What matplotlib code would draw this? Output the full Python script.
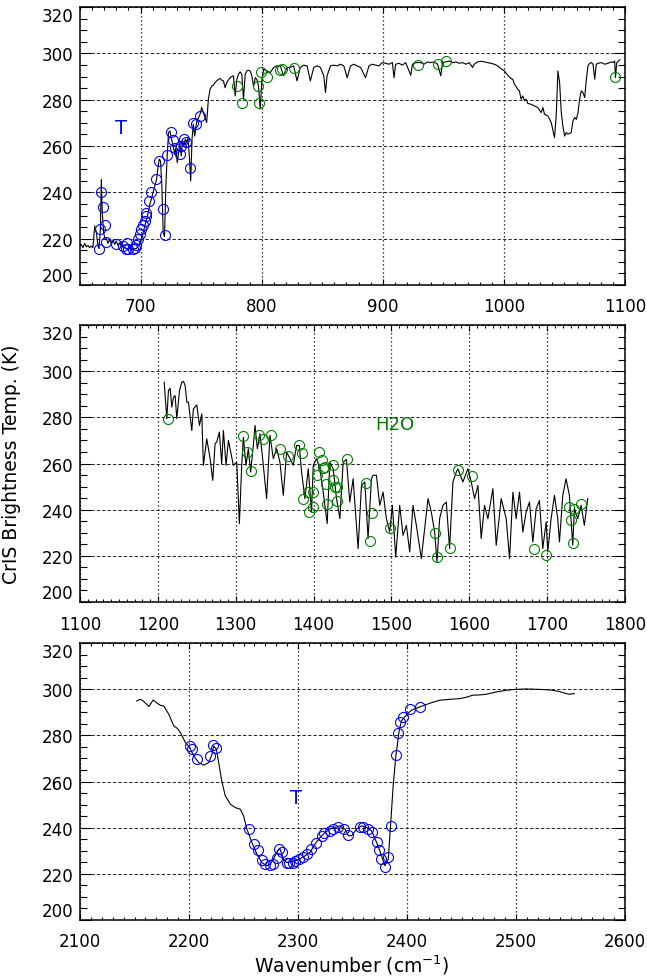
import matplotlib
matplotlib.use('Agg')
import matplotlib.pyplot as plt
from matplotlib.ticker import MultipleLocator

# ---- longwave band (650-1095 cm-1) ----
lw_wn = [649.7, 651.0, 652.4, 653.8, 655.2, 656.6, 657.9, 659.3, 660.7, 662.1,
         663.5, 664.9, 665.7, 666.8, 667.6, 668.4, 669.5, 670.7, 671.8, 673.1,
         674.5, 675.9, 677.3, 678.7, 680.0, 681.4, 682.8, 684.2, 685.6, 687.0,
         688.3, 689.7, 691.1, 692.5, 693.9, 695.2, 696.6, 698.0, 699.4, 700.8,
         702.1, 703.5, 704.9, 706.3, 707.7, 709.0, 710.4, 711.8, 713.2, 714.6,
         715.4, 716.5, 717.6, 718.7, 719.8, 720.9, 722.0, 723.1, 724.2, 725.6,
         727.0, 728.1, 729.2, 730.3, 731.4, 732.5, 733.6, 734.7, 735.8, 736.9,
         738.0, 739.1, 740.3, 741.4, 742.5, 743.6, 744.7, 745.8, 746.9, 748.0,
         749.1, 750.5, 751.9, 753.2, 754.6, 756.0, 757.4, 758.8, 760.1, 761.5,
         762.9, 764.3, 765.7, 767.0, 768.4, 769.8, 771.2, 772.6, 774.0, 775.3,
         776.7, 778.1, 779.5, 780.9, 782.2, 783.6, 785.0, 786.4, 787.8, 789.1,
         790.5, 791.9, 793.3, 794.7, 796.0, 797.4, 798.8, 800.2, 801.6, 804.3,
         807.1, 809.9, 812.6, 815.4, 818.1, 820.9, 823.7, 826.4, 829.2, 831.9,
         834.7, 837.5, 840.2, 843.0, 845.8, 848.5, 851.3, 852.7, 854.0, 856.8,
         859.6, 862.3, 865.1, 867.8, 870.6, 873.4, 876.1, 878.9, 881.7, 885.8,
         888.6, 891.3, 894.1, 896.8, 899.6, 902.4, 905.1, 907.9, 909.3, 910.6,
         913.4, 916.2, 918.9, 923.1, 924.5, 927.2, 931.4, 934.1, 936.9, 939.6,
         942.4, 945.2, 947.9, 949.3, 952.1, 954.8, 957.6, 960.4, 963.1, 965.9,
         968.7, 971.4, 974.2, 975.5, 978.3, 981.1, 983.8, 986.6, 989.4, 992.1,
         994.9, 997.6, 1000.4, 1003.2, 1005.9, 1007.3, 1008.7, 1010.1, 1011.5, 1012.8,
         1014.2, 1015.6, 1017.0, 1018.4, 1019.7, 1022.5, 1025.3, 1028.0, 1030.8, 1032.2,
         1033.5, 1036.3, 1039.1, 1041.8, 1043.2, 1044.6, 1046.0, 1047.4, 1048.7, 1050.1,
         1051.5, 1052.9, 1055.6, 1057.0, 1058.4, 1059.8, 1061.2, 1062.5, 1063.9, 1065.3,
         1066.7, 1068.1, 1069.4, 1070.8, 1072.2, 1073.6, 1075.0, 1076.3, 1077.7, 1080.5,
         1083.3, 1086.0, 1088.8, 1090.2, 1091.5, 1092.1, 1093.2, 1095.7]
lw_bt = [216.8, 217.5, 216.1, 218.0, 216.5, 217.1, 216.1, 216.8, 216.1, 225.5,
         222.6, 216.8, 215.7, 224.0, 245.6, 231.2, 222.6, 219.7, 220.0, 218.0,
         219.7, 217.5, 219.4, 217.5, 219.0, 217.1, 218.3, 216.5, 216.8, 216.1,
         215.7, 215.1, 216.0, 215.4, 215.1, 215.7, 215.7, 217.1, 218.0, 220.4,
         222.6, 225.5, 228.3, 231.2, 234.8, 237.3, 239.9, 242.7, 245.6, 251.4,
         254.3, 253.5, 242.7, 222.6, 220.9, 242.7, 255.7, 265.8, 266.5, 262.9,
         260.0, 256.4, 259.3, 252.8, 257.1, 261.5, 255.7, 262.2, 260.0, 262.9,
         261.5, 263.6, 255.7, 244.9, 262.9, 269.4, 264.3, 268.7, 271.5, 272.3,
         273.7, 276.6, 274.4, 272.3, 270.1, 280.2, 284.5, 285.9, 286.2, 287.4,
         288.1, 288.8, 289.1, 288.4, 288.1, 285.2, 287.4, 288.5, 289.5, 290.0,
         290.3, 281.6, 288.8, 291.0, 292.0, 291.0, 280.2, 291.0, 292.4, 292.7,
         292.4, 290.3, 285.6, 289.5, 288.8, 285.9, 275.9, 288.8, 293.1, 292.4,
         291.7, 293.9, 294.6, 294.6, 290.3, 293.9, 293.9, 294.6, 288.1, 293.9,
         294.9, 294.6, 288.1, 293.9, 294.6, 293.9, 290.3, 283.1, 290.3, 294.6,
         294.9, 294.6, 295.3, 294.6, 289.5, 294.6, 295.3, 294.6, 293.9, 289.5,
         294.6, 295.3, 294.9, 294.6, 296.0, 295.7, 295.3, 296.0, 289.5, 295.3,
         295.7, 294.9, 296.0, 290.5, 295.3, 296.0, 296.0, 295.3, 296.3, 296.0,
         296.3, 295.3, 290.3, 296.0, 296.3, 296.7, 296.0, 296.3, 295.7, 296.0,
         295.3, 296.0, 293.9, 295.3, 296.3, 296.6, 296.3, 296.0, 295.7, 295.3,
         294.6, 293.4, 292.4, 290.5, 289.1, 288.8, 286.7, 285.6, 284.5, 283.8,
         280.2, 281.6, 279.5, 280.2, 278.4, 278.0, 277.3, 276.6, 274.4, 276.6,
         273.7, 273.0, 270.1, 263.6, 273.0, 292.4, 287.4, 274.4, 268.7, 264.3,
         265.8, 265.1, 265.8, 270.8, 272.3, 271.5, 274.4, 280.2, 283.8, 283.1,
         280.9, 288.8, 294.6, 295.7, 296.0, 295.3, 288.8, 295.3, 295.7, 296.0,
         295.3, 295.7, 296.3, 296.0, 296.7, 289.5, 296.0, 297.2]

lw_t_wn = [665.7, 666.2, 667.6, 669.0, 670.3, 671.7, 680.0, 685.5, 687.7, 688.9,
           689.6, 693.8, 695.1, 696.5, 697.9, 699.2, 700.6, 702.0, 703.4, 704.2,
           704.8, 707.0, 708.9, 713.0, 715.2, 718.5, 719.9, 721.9, 725.5, 726.9,
           728.2, 732.4, 733.8, 735.7, 737.9, 741.2, 743.4, 745.6, 748.9]
lw_t_bt = [215.4, 224.0, 240.1, 233.7, 225.9, 218.5, 217.5, 216.8, 215.7, 218.3,
           215.7, 215.7, 216.1, 217.1, 219.7, 221.9, 224.0, 225.7, 227.6, 229.8,
           230.9, 236.3, 240.1, 245.9, 253.5, 232.7, 221.4, 256.0, 266.1, 262.6,
           259.3, 256.4, 260.0, 263.2, 261.8, 250.7, 269.8, 269.4, 273.0]

lw_q_wn = [779.5, 784.0, 796.9, 797.4, 799.6, 804.3, 815.4, 817.0, 826.4, 929.2,
           945.2, 952.3, 1092.0]
lw_q_bt = [285.7, 278.7, 285.7, 278.4, 292.1, 290.0, 292.7, 293.2, 293.6, 294.9,
           295.3, 296.7, 289.8]

# ---- midwave band (1210-1750 cm-1) ----
mw_wn = [1208.1, 1211.5, 1213.6, 1215.8, 1217.9, 1220.1, 1222.2, 1224.3, 1227.8, 1230.7,
         1232.9, 1235.0, 1237.2, 1239.3, 1243.6, 1245.7, 1250.0, 1253.4, 1256.4, 1258.5,
         1262.8, 1267.1, 1270.5, 1273.5, 1275.6, 1279.0, 1282.0, 1284.2, 1287.6, 1290.6,
         1293.6, 1297.0, 1301.3, 1304.7, 1307.7, 1309.8, 1313.2, 1316.2, 1319.2, 1322.6,
         1324.8, 1327.8, 1331.2, 1334.6, 1339.7, 1344.0, 1348.3, 1352.6, 1356.8, 1361.1,
         1365.4, 1369.7, 1373.9, 1378.2, 1381.6, 1384.6, 1388.9, 1393.2, 1397.4, 1399.6,
         1403.8, 1408.1, 1412.4, 1417.5, 1420.9, 1425.2, 1429.5, 1433.8, 1438.0, 1442.2,
         1446.5, 1450.8, 1457.2, 1461.5, 1465.8, 1470.0, 1474.3, 1476.4, 1480.7, 1485.0,
         1489.3, 1493.5, 1497.8, 1501.2, 1505.5, 1510.6, 1514.9, 1519.2, 1523.5, 1527.7,
         1532.0, 1538.4, 1547.0, 1551.2, 1555.5, 1558.5, 1561.9, 1566.2, 1570.5, 1574.7,
         1579.0, 1583.3, 1585.4, 1591.8, 1598.2, 1602.5, 1606.8, 1611.1, 1615.3, 1619.6,
         1623.9, 1630.3, 1634.6, 1641.0, 1647.4, 1651.7, 1656.0, 1660.2, 1664.5, 1668.8,
         1673.0, 1677.3, 1681.6, 1685.9, 1690.1, 1694.4, 1698.7, 1700.8, 1705.1, 1709.4,
         1713.6, 1715.8, 1720.1, 1724.3, 1728.6, 1732.9, 1735.0, 1739.3, 1743.6, 1747.8,
         1752.1]
mw_bt = [295.2, 279.4, 291.6, 292.6, 284.4, 288.7, 289.4, 279.4, 291.6, 295.2,
         295.6, 293.8, 286.6, 286.6, 274.3, 283.7, 285.4, 276.5, 281.5, 259.2,
         270.7, 262.1, 252.7, 268.6, 269.3, 273.6, 259.9, 274.3, 259.2, 270.0,
         264.9, 259.2, 260.6, 234.0, 259.2, 271.4, 259.2, 266.4, 256.3, 267.8,
         276.5, 266.4, 272.9, 262.1, 244.8, 272.2, 262.1, 266.4, 260.6, 246.2,
         264.9, 262.1, 259.2, 267.8, 267.8, 256.3, 244.8, 257.7, 239.0, 259.2,
         262.1, 257.7, 247.6, 234.0, 260.6, 257.7, 244.8, 236.1, 260.6, 261.8,
         243.3, 253.4, 223.1, 250.5, 252.0, 227.5, 253.4, 254.9, 254.9, 241.9,
         247.6, 236.1, 230.3, 241.9, 219.5, 241.9, 228.9, 233.2, 221.7, 241.9,
         233.2, 218.8, 244.8, 239.0, 230.3, 217.4, 236.1, 241.9, 243.3, 223.1,
         252.0, 256.3, 257.7, 252.0, 257.7, 252.0, 244.8, 250.5, 227.5, 241.9,
         236.1, 249.1, 224.6, 244.8, 236.1, 218.8, 247.6, 236.1, 247.6, 230.3,
         239.0, 243.3, 226.0, 240.4, 244.0, 223.1, 234.7, 221.7, 236.1, 246.2,
         236.1, 226.0, 246.2, 253.4, 246.2, 224.6, 240.4, 236.1, 241.9, 233.2,
         244.8]

mw_q_wn = [1212.4, 1309.8, 1314.9, 1319.2, 1330.3, 1334.6, 1344.9, 1356.8, 1366.7, 1380.8,
           1385.0, 1386.7, 1393.2, 1394.4, 1398.7, 1399.6, 1404.7, 1407.3, 1410.3, 1412.4,
           1414.5, 1415.8, 1417.5, 1424.4, 1425.2, 1427.3, 1429.5, 1430.3, 1442.3, 1467.9,
           1472.2, 1475.6, 1497.8, 1555.5, 1558.5, 1575.6, 1585.4, 1603.8, 1683.7, 1698.7,
           1728.6, 1730.7, 1732.9, 1735.0, 1743.6]
mw_q_bt = [279.4, 271.9, 264.9, 256.6, 272.4, 270.7, 272.4, 266.1, 263.2, 267.8,
           264.4, 244.8, 247.6, 239.0, 247.6, 241.2, 254.9, 264.9, 261.3, 258.0,
           258.5, 251.3, 242.6, 252.7, 259.2, 249.8, 243.6, 249.8, 261.8, 251.7,
           226.6, 238.7, 232.1, 229.9, 219.5, 223.4, 257.4, 254.4, 222.9, 220.5,
           241.0, 235.4, 225.6, 240.4, 242.3]

# ---- shortwave band (2155-2550 cm-1) ----
sw_wn = [2152.0, 2155.5, 2158.0, 2163.2, 2167.1, 2170.8, 2173.8, 2176.9, 2181.5, 2186.0,
         2189.0, 2192.1, 2196.7, 2200.7, 2204.3, 2208.9, 2213.5, 2218.1, 2221.1, 2222.6,
         2225.1, 2227.2, 2230.3, 2233.3, 2237.9, 2242.4, 2247.0, 2250.1, 2253.1, 2257.7,
         2262.3, 2266.8, 2271.4, 2274.5, 2277.5, 2281.2, 2283.6, 2286.7, 2289.7, 2292.8,
         2297.3, 2301.9, 2306.5, 2311.1, 2315.6, 2320.2, 2324.8, 2329.4, 2333.9, 2338.5,
         2343.1, 2346.2, 2349.2, 2353.8, 2358.3, 2362.9, 2367.5, 2372.1, 2375.1, 2377.6,
         2379.7, 2382.8, 2384.9, 2387.3, 2389.8, 2392.8, 2394.9, 2398.0, 2404.1, 2411.7,
         2420.9, 2430.0, 2439.2, 2448.3, 2454.4, 2460.5, 2466.6, 2472.7, 2481.9, 2491.0,
         2499.2, 2509.3, 2521.5, 2530.7, 2539.8, 2545.9, 2548.9, 2553.5]
sw_bt = [294.9, 295.6, 294.9, 292.5, 295.3, 293.9, 293.0, 292.7, 289.1, 284.1,
         283.1, 281.2, 276.9, 274.7, 271.1, 268.2, 267.1, 268.2, 271.8, 275.4,
         274.0, 268.2, 259.6, 253.8, 250.2, 248.7, 248.0, 245.1, 239.4, 233.6,
         228.5, 224.9, 223.5, 224.2, 226.4, 230.0, 230.7, 226.4, 224.9, 225.2,
         225.6, 226.6, 227.8, 229.3, 232.9, 235.7, 237.9, 239.4, 240.1, 240.8,
         239.4, 236.5, 236.5, 239.4, 240.8, 240.1, 238.6, 233.6, 230.0, 226.4,
         223.5, 226.4, 240.8, 258.1, 271.1, 281.9, 286.2, 288.1, 290.9, 292.3,
         293.9, 295.2, 295.6, 295.9, 296.5, 297.4, 297.5, 297.8, 298.8, 299.5,
         299.9, 300.1, 299.9, 299.7, 299.0, 298.1, 297.8, 298.1]

sw_t_wn = [2200.7, 2202.8, 2207.4, 2219.6, 2222.0, 2225.1, 2255.3, 2259.8, 2262.9, 2266.8,
           2269.9, 2273.9, 2277.5, 2280.6, 2283.0, 2285.1, 2289.7, 2292.2, 2295.2, 2297.3,
           2301.3, 2305.0, 2308.0, 2311.7, 2316.6, 2321.7, 2323.9, 2329.4, 2332.4, 2337.0,
           2342.2, 2346.2, 2356.8, 2359.9, 2364.4, 2367.5, 2372.7, 2374.5, 2376.6, 2379.7,
           2382.7, 2384.9, 2389.8, 2391.9, 2394.0, 2396.5, 2403.2, 2411.7]
sw_t_bt = [275.4, 274.0, 269.7, 271.1, 275.7, 274.3, 239.4, 232.9, 230.3, 225.9,
           224.2, 223.9, 224.2, 226.7, 230.7, 229.5, 224.9, 224.5, 224.9, 225.6,
           226.4, 227.4, 228.5, 230.7, 233.3, 236.5, 237.6, 238.6, 239.6, 240.5,
           239.4, 236.8, 240.5, 240.5, 239.4, 238.2, 233.9, 230.4, 226.4, 222.8,
           227.1, 240.8, 271.4, 281.2, 285.8, 288.1, 291.3, 292.3]

bt_ticks = [200, 220, 240, 260, 280, 300, 320]

BLUE = '#0000ff'
GREEN = '#008000'

fig = plt.figure(figsize=(6.47, 9.79), dpi=100)
W, H = 647.0, 979.0
boxes = [(80, 8, 625, 286), (80, 326, 625, 603), (80, 644, 625, 921)]
axes = [fig.add_axes([l / W, 1 - b / H, (r - l) / W, (b - t) / H]) for l, t, r, b in boxes]

def style(ax, xmin, xmax):
    ax.set_xlim(xmin, xmax)
    ax.set_ylim(200, 320)
    ax.xaxis.set_major_locator(MultipleLocator(100))
    ax.xaxis.set_minor_locator(MultipleLocator(10))
    ax.set_yticks(bt_ticks)
    ax.yaxis.set_minor_locator(MultipleLocator(5))
    ax.grid(axis='y', which='major', color='k', lw=0.6, linestyle=(0, (4, 2.5)))
    ax.grid(axis='x', which='major', color='k', lw=0.9, linestyle=(0, (1, 2.2)))
    ax.tick_params(which='both', direction='in', top=True, right=True,
                   labelsize=12, width=0.8)
    ax.tick_params(axis='y', which='major', length=8, pad=5)
    ax.tick_params(axis='y', which='minor', length=5)
    ax.tick_params(axis='x', which='major', length=4, pad=9)
    ax.tick_params(axis='x', which='minor', length=2.5)
    for s in ax.spines.values():
        s.set_linewidth(1.1)
    ax.set_axisbelow(True)
    # keep the end labels inside the frame
    labs = ax.get_yticklabels()
    labs[0].set_verticalalignment('bottom')
    labs[-1].set_verticalalignment('top')

circ = dict(ls='none', marker='o', ms=7.2, mfc='none', mew=0.8)

ax = axes[0]
ax.plot(lw_wn, lw_bt, color='k', lw=0.8)
ax.plot(lw_t_wn, lw_t_bt, mec=BLUE, **circ)
ax.plot(lw_q_wn, lw_q_bt, mec=GREEN, **circ)
ax.text(684, 268, 'T', color=BLUE, fontsize=14, ha='center', va='center')
style(ax, 650, 1100)

ax = axes[1]
ax.plot(mw_wn, mw_bt, color='k', lw=0.8)
ax.plot(mw_q_wn, mw_q_bt, mec=GREEN, **circ)
ax.text(1504, 277, 'H2O', color=GREEN, fontsize=13, ha='center', va='center')
style(ax, 1100, 1800)

ax = axes[2]
ax.plot(sw_wn, sw_bt, color='k', lw=0.8)
ax.plot(sw_t_wn, sw_t_bt, mec=BLUE, **circ)
ax.text(2298, 253, 'T', color=BLUE, fontsize=14, ha='center', va='center')
style(ax, 2100, 2600)

fig.text(12 / W, 1 - 464 / H, 'CrIS Brightness Temp. (K)', rotation=90,
         fontsize=13.5, ha='center', va='center')
fig.text(352 / W, 1 - 965 / H, 'Wavenumber (cm$^{-1}$)', fontsize=13.5,
         ha='center', va='center')

fig.savefig('out.png', dpi=100)
